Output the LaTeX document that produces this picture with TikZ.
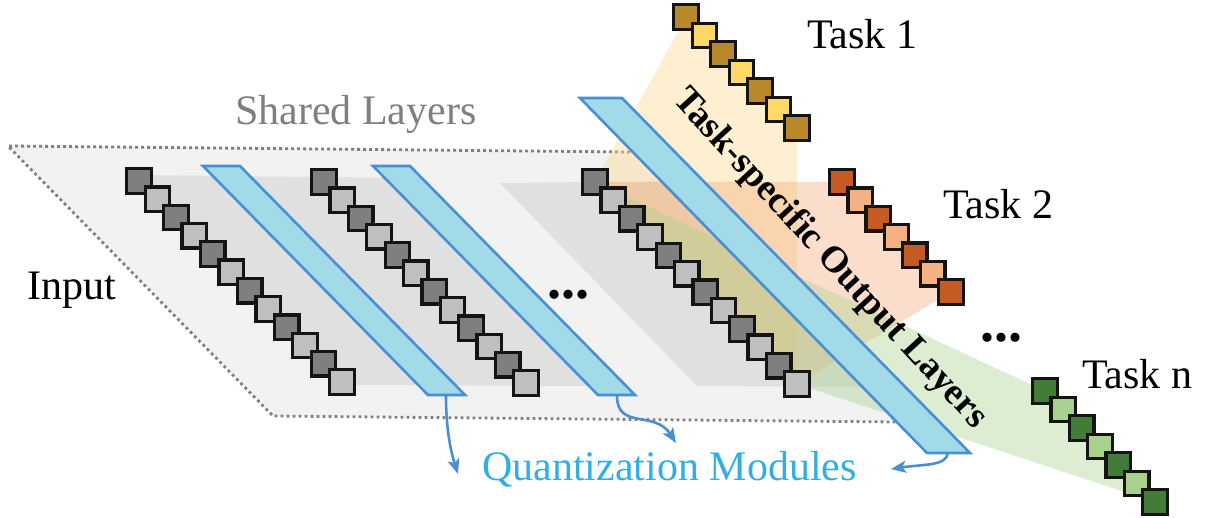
\documentclass[tikz,border=0pt]{standalone}
\usepackage{fontspec}
\setmainfont{Liberation Serif}
\usetikzlibrary{arrows.meta,calc}

% palettes: index 0 = dark cell, index 1 = light cell
\definecolor{shd0}{HTML}{7F7F7F}
\definecolor{shd1}{HTML}{BFBFBF}
\definecolor{gold0}{HTML}{B8892B}
\definecolor{gold1}{HTML}{FFD966}
\definecolor{rust0}{HTML}{C55A24}
\definecolor{rust1}{HTML}{F4B183}
\definecolor{leaf0}{HTML}{427D38}
\definecolor{leaf1}{HTML}{A9D18E}
\definecolor{plate}{HTML}{F2F2F2}
\definecolor{platedark}{HTML}{E0E0E0}
\definecolor{barfill}{HTML}{A3DAE8}
\definecolor{barline}{HTML}{4A8FD4}
\definecolor{quanttext}{HTML}{33AEE3}
\definecolor{fangold}{HTML}{FCD88F}
\definecolor{fanrust}{HTML}{F4B183}
\definecolor{fanleaf}{HTML}{A9D18E}
\definecolor{dotline}{HTML}{7F7F7F}

\pgfdeclarelayer{base}
\pgfdeclarelayer{fan}
\pgfsetlayers{base,fan,main}

% a diagonal column of cells: name, palette, last index, first centre, last centre
\newcommand{\sqcolumn}[7]{%
  \foreach \i in {0,...,#3}{%
    \pgfmathtruncatemacro\cidx{mod(\i,2)}%
    \node[cell, fill=#2\cidx] (#1\i) at ({#4+\i*(#6-#4)/#3},{#5+\i*(#7-#5)/#3}) {};
  }%
}

\tikzset{
  cell/.style={rectangle, draw=black!92, line width=3.3pt, minimum size=24.5pt, inner sep=0pt},
  qbar/.style={fill=barfill, draw=barline, line width=2.6pt},
  dotborder/.style={draw=dotline, line width=2.8pt, dash pattern=on 2.8pt off 3.2pt},
  qarrow/.style={draw=barline, line width=2.6pt, -{Stealth[length=15pt,width=12pt,inset=3.5pt]}},
  txt/.style={inner sep=0pt, font=\fontsize{42}{50}\selectfont},
  dots/.style={inner sep=0pt, font=\fontsize{56}{60}\selectfont\bfseries},
}

\begin{document}
\begin{tikzpicture}[x=1pt, y=-1pt]
\useasboundingbox (0,0) rectangle (1205,518);

% shared layer plate
\begin{pgfonlayer}{base}
  \fill[plate] (8,146) -- (630,152) -- (895,422) -- (273,416) -- cycle;
  \draw[dotborder] (630,152) -- (8,146) -- (273,416) -- (895,422);
  \fill[platedark] (137,175) -- (395,178) -- (612,386) -- (342,385) -- cycle;
  \fill[platedark] (500,183) -- (685,181) -- (885,387) -- (697,386) -- cycle;
\end{pgfonlayer}

% cell columns
\sqcolumn{ga}{shd}{11}{139}{181}{342}{382}
\sqcolumn{gb}{shd}{11}{324}{182}{526}{383}
\sqcolumn{gc}{shd}{11}{595}{182}{797}{384}
\sqcolumn{ta}{gold}{6}{686}{17}{797}{128}
\sqcolumn{tb}{rust}{6}{842}{182}{951}{292}
\sqcolumn{tn}{leaf}{6}{1045}{391}{1155}{502}

% task-specific fans
\begin{pgfonlayer}{fan}
  \fill[fangold, fill opacity=0.42] (ta0.center) -- (ta6.center) -- (gc11.center) -- (gc0.center) -- cycle;
  \fill[fanrust, fill opacity=0.42] (tb0.center) -- (tb6.center) -- (gc11.center) -- (gc0.center) -- cycle;
  \fill[fanleaf, fill opacity=0.40] (tn0.center) -- (tn6.center) -- (gc11.center) -- (gc0.center) -- cycle;
\end{pgfonlayer}

% quantization bars
\filldraw[qbar] (203,166) -- (240,166) -- (465,395) -- (428,395) -- cycle;
\filldraw[qbar] (373,166) -- (410,166) -- (635,395) -- (598,395) -- cycle;
\filldraw[qbar] (580,98) -- (622,98) -- (970,453) -- (927,453) -- cycle;

\coordinate (barA) at (446,396);
\coordinate (barB) at (617,396);
\coordinate (barC) at (948,453);
\coordinate (tipA) at (458,474);
\coordinate (tipB) at (676,443);
\coordinate (tipC) at (891,469);

\draw[qarrow] (barA) .. controls (446,430) and (451,452) .. (tipA);
\draw[qarrow] (barB) .. controls (617,430) and (655,410) .. (tipB);
\draw[qarrow] (barC) .. controls (946,466) and (925,464) .. (tipC);

% labels
\node[txt, text=dotline, anchor=base west] (shared) at (235,125) {Shared Layers};
\node[txt, anchor=base west] (input) at (27,300) {Input};
\node[txt, anchor=base west] (task1) at (807,49) {Task 1};
\node[txt, anchor=base west] (task2) at (943,219) {Task 2};
\node[txt, anchor=base west] (taskn) at (1082,389) {Task n};
\node[txt, text=quanttext, anchor=base west] (quant) at (482,480) {Quantization Modules};
\node[dots] (dotsmid) at (568,295) {...};
\node[dots] (dotstask) at (1001,338) {...};
\node[inner sep=0pt, anchor=base, rotate=-47.5, font=\fontsize{37}{44}\selectfont\bfseries] (outlayers) at (823,265) {Task-specific Output Layers};
\end{tikzpicture}
\end{document}
